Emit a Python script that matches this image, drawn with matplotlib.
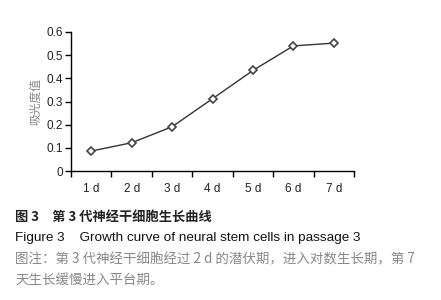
import numpy as np
import matplotlib
matplotlib.use('Agg')
import matplotlib.pyplot as plt

plt.rcParams['font.family'] = ['Liberation Sans', 'Noto Sans CJK SC', 'DejaVu Sans']

days = ['1 d', '2 d', '3 d', '4 d', '5 d', '6 d', '7 d']
absorbance = [0.086, 0.122, 0.191, 0.312, 0.434, 0.540, 0.552]
y_ticks = [0, 0.1, 0.2, 0.3, 0.4, 0.5, 0.6]
y_labels = ['0', '0.1', '0.2', '0.3', '0.4', '0.5', '0.6']

fig = plt.figure(figsize=(4.41, 3.0), dpi=100)
ax = fig.add_axes([71/441, 129/300, 283/441, 139/300])

x = np.arange(len(days))
ax.plot(x, absorbance, color='#333333', lw=1.0, marker='D', ms=4.2,
        mfc='white', mec='#444444', mew=1.2)

ax.set_xlim(-0.5, len(days) - 0.5)
ax.set_ylim(0, 0.6)
ax.set_yticks(y_ticks)
ax.set_yticklabels(y_labels)
ax.set_xticks(np.arange(-0.5, len(days)), minor=False)
ax.set_xticklabels([])
ax.set_xticks(x, minor=True)
ax.set_xticklabels(days, minor=True)
ax.tick_params(axis='x', which='minor', length=0, pad=9, labelsize=8.5, colors='#222222')
ax.tick_params(axis='x', which='major', length=4, width=1, direction='out')
ax.tick_params(axis='y', length=4, width=1, direction='out', labelsize=8.5,
               colors='#222222', pad=2)
ax.tick_params(axis='both', which='both', color='black')
for s in ['top', 'right']:
    ax.spines[s].set_visible(False)
for s in ['left', 'bottom']:
    ax.spines[s].set_linewidth(1.0)
    ax.spines[s].set_color('black')

ax.set_ylabel('吸光度值', family=['Noto Sans CJK SC'], fontsize=8.5,
              color='#888888', labelpad=3)

fig.text(15/441, 1 - 218/300, '图 3　第 3 代神经干细胞生长曲线',
         family=['Noto Sans CJK SC', 'DejaVu Sans'], fontsize=9.5,
         fontweight='bold', color='#222222', va='center')
fig.text(15/441, 1 - 238/300, 'Figure 3    Growth curve of neural stem cells in passage 3',
         family=['Liberation Sans'], fontsize=9.7, color='#111111', va='center')
fig.text(15/441, 1 - 259/300,
         '图注：第 3 代神经干细胞经过 2 d 的潜伏期，进入对数生长期，第 7',
         family=['Noto Sans CJK SC', 'DejaVu Sans'], fontsize=9.7,
         color='#888888', va='center')
fig.text(15/441, 1 - 280/300, '天生长缓慢进入平台期。',
         family=['Noto Sans CJK SC', 'DejaVu Sans'], fontsize=9.7,
         color='#888888', va='center')

fig.savefig('out.png', dpi=100, facecolor='white')
